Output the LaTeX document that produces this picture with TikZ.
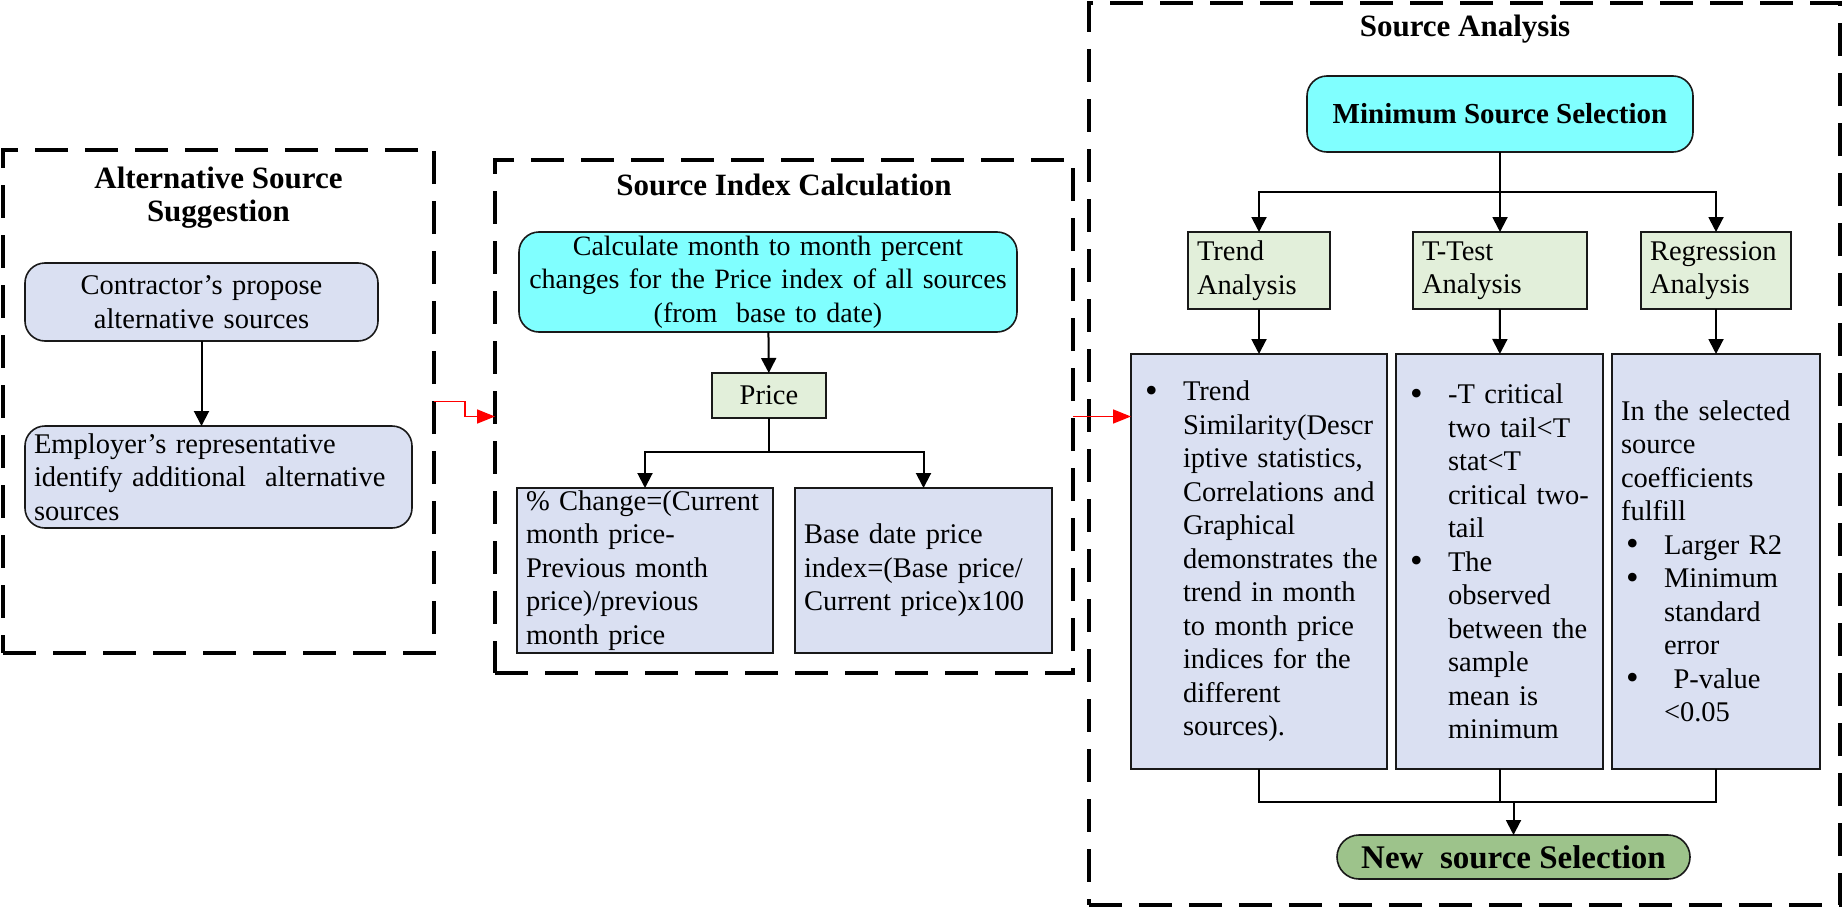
\documentclass[tikz,border=0pt]{standalone}
\usepackage{fontspec}
\setmainfont{Liberation Serif}
\usetikzlibrary{arrows.meta}
\definecolor{SrcInk}{gray}{0.1}
\definecolor{SrcBlue}{HTML}{DAE0F2}
\definecolor{SrcCyan}{HTML}{80FFFF}
\definecolor{SrcPale}{HTML}{E2EFDA}
\definecolor{SrcGreen}{HTML}{9DC38B}
\definecolor{SrcRed}{HTML}{FF0000}
\newcommand{\bul}{\hspace*{5pt}\makebox[38pt][l]{\raisebox{-1.5pt}{\fontsize{36}{33}\selectfont\textbullet}}}
\newcommand{\bulind}{\hspace*{43pt}}
\tikzset{
    src/diagram/.style={
        x=1pt, y=-1pt,
        font=\fontsize{28.5}{33.5}\selectfont,
        line join=miter,
        every node/.style={outer sep=0pt},
        execute at begin node={\parindent=0pt}
    },
    src/frame/.style={
        draw=black, line width=4pt,
        dash pattern=on 33pt off 17pt, inner sep=0pt
    },
    src/title/.style={font=\fontsize{31}{33}\selectfont\bfseries, align=center, inner sep=0pt},
    src/card/.style={draw=SrcInk, line width=1.6pt, inner xsep=9pt, inner ysep=0pt},
    src/soft/.style={src/card, fill=SrcBlue, rounded corners=20pt},
    src/plain/.style={src/card, fill=SrcBlue, align=left},
    src/head/.style={src/card, fill=SrcPale, align=left},
    src/key/.style={src/card, fill=SrcCyan, rounded corners=20pt, align=center},
    src/final/.style={
        src/card, fill=SrcGreen, rounded corners=22pt,
        font=\fontsize{33}{33}\selectfont\bfseries
    },
    src/link/.style={draw=black, line width=2pt},
    src/flow/.style={
        draw=black, line width=2pt,
        -{Triangle[length=15pt, width=15pt]}
    },
    src/jump/.style={
        draw=SrcRed, line width=1.6pt,
        -{Triangle[length=18pt, width=14pt]}
    }
}

\begin{document}
\begin{tikzpicture}[src/diagram]
    \useasboundingbox (0,0) rectangle (1843,907);
    \node[src/frame, minimum width=431pt, minimum height=503pt] (altframe) at (218.5,401.5) {};
    \node[src/frame, minimum width=578pt, minimum height=513pt] (idxframe) at (784,416.5) {};
    \node[src/frame, minimum width=751pt, minimum height=902pt] (anaframe) at (1464.5,454) {};
    \node[src/title] (alttitle) at (218.5,197.5) {Alternative Source\\Suggestion};
    \node[src/title, anchor=base] (idxtitle) at (784,195) {Source Index Calculation};
    \node[src/title, anchor=base] (anatitle) at (1465,37) {Source Analysis};

    \node[src/soft, minimum width=353pt, minimum height=78pt, text width=335pt, align=center]
        (contractor) at (201.5,302) {Contractor’s propose\\alternative sources};
    \node[src/soft, minimum width=387pt, minimum height=102pt, text width=369pt, align=left]
        (employer) at (218.5,477) {Employer’s representative\\identify additional \ alternative\\sources};
    \draw[src/flow] (contractor.south) -- (contractor.south |- employer.north);

    \node[src/key, minimum width=498pt, minimum height=100pt, inner xsep=4pt, text width=490pt,
        font=\fontsize{28}{33.5}\selectfont] (calc) at (768,282)
        {Calculate month to month percent\\changes for the Price index of all sources\\(from \ base to date)};
    \node[src/head, minimum width=114pt, minimum height=45pt, align=center] (price) at (769,395.5) {Price};
    \node[src/plain, minimum width=256pt, minimum height=165pt, text width=238pt] (change) at (645,570.5)
        {\% Change=(Current\\month price-\\Previous month\\price)/previous\\month price};
    \node[src/plain, minimum width=257pt, minimum height=165pt, text width=239pt] (base) at (923.5,570.5)
        {Base date price\\index=(Base price/\\Current price)x100};
    \draw[src/flow] (calc) -- (price);
    \path (price.south) ++(0,34) coordinate (psplit);
    \draw[src/link] (price.south) -- (psplit);
    \draw[src/flow] (psplit) -| (change.north);
    \draw[src/flow] (psplit) -| (base.north);

    \node[src/key, minimum width=386pt, minimum height=76pt, font=\fontsize{29}{33}\selectfont\bfseries]
        (minsel) at (1500,114) {Minimum Source Selection};
    \node[src/head, minimum width=142pt, minimum height=77pt, text width=124pt] (trendh) at (1259,270.5) {Trend\\Analysis};
    \node[src/head, minimum width=174pt, minimum height=77pt, text width=156pt] (ttesth) at (1500,270.5) {T-Test\\Analysis};
    \node[src/head, minimum width=150pt, minimum height=77pt, text width=132pt] (regh) at (1716,270.5) {Regression\\Analysis};
    \path (minsel.south) ++(0,40) coordinate (msplit);
    \draw[src/flow] (minsel) -- (ttesth);
    \draw[src/flow] (msplit) -| (trendh.north);
    \draw[src/flow] (msplit) -| (regh.north);

    \node[src/plain, minimum width=256pt, minimum height=415pt, text width=238pt] (trendb) at (1259,561.5)
        {\bul Trend\\ \bulind Similarity(Descr\\ \bulind iptive statistics,\\ \bulind Correlations and\\
         \bulind Graphical\\ \bulind demonstrates the\\ \bulind trend in month\\ \bulind to month price\\
         \bulind indices for the\\ \bulind different\\ \bulind sources).};
    \node[src/plain, minimum width=207pt, minimum height=415pt, text width=189pt] (ttestb) at (1499.5,561.5)
        {\bul -T critical\\ \bulind two tail<T\\ \bulind stat<T\\ \bulind critical two-\\ \bulind tail\\
         \bul The\\ \bulind observed\\ \bulind between the\\ \bulind sample\\ \bulind mean is\\ \bulind minimum};
    \node[src/plain, minimum width=208pt, minimum height=415pt, text width=190pt] (regb) at (1716,561.5)
        {In the selected\\source\\coefficients\\fulfill\\ \bul Larger R2\\ \bul Minimum\\ \bulind standard\\
         \bulind error\\ \bul \ P-value\\ \bulind <0.05};
    \draw[src/flow] (trendh) -- (trendb);
    \draw[src/flow] (ttesth) -- (ttestb);
    \draw[src/flow] (regh) -- (regb);

    \node[src/final, minimum width=353pt, minimum height=44pt] (newsel) at (1513.5,857) {New \ source Selection};
    \path (ttestb.south) ++(0,33) coordinate (tmerge);
    \draw[src/link] (trendb.south) -- ++(0,33) -| (regb.south);
    \draw[src/link] (ttestb.south) -- (tmerge);
    \draw[src/flow] (newsel.north |- tmerge) -- (newsel.north);

    \draw[src/jump] (altframe.east) -- ++(31,0) |- (idxframe.west);
    \draw[src/jump] (idxframe.east) -- (idxframe.east -| trendb.west);
\end{tikzpicture}
\end{document}
